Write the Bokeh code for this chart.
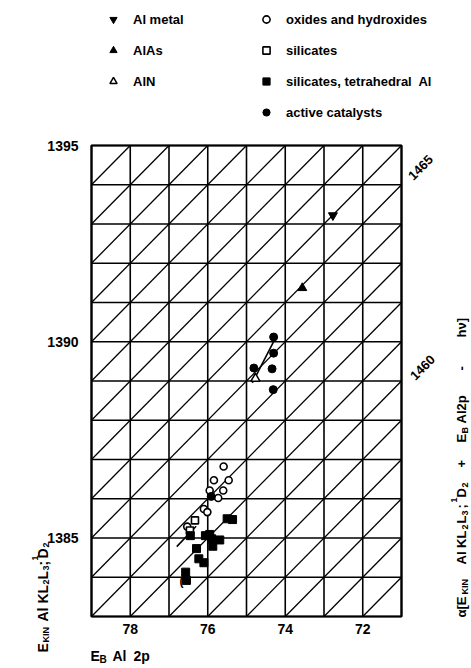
from bokeh.plotting import figure
from bokeh.models import Range1d, Label, Legend, LegendItem
from bokeh.core.properties import value
from bokeh.embed import file_html
from bokeh.resources import INLINE

# ---------------- data ----------------
box_eb = (79, 71)            # E_B Al 2p range of the chart box (eV)
box_ek = (1383, 1395)        # E_KIN range of the chart box (eV)
eb_ticks = [78, 76, 74, 72]
ek_ticks = [1385, 1390, 1395]
eb_grid = list(range(71, 80))
ek_grid = list(range(1383, 1396))
alpha_grid = list(range(1454, 1475))
alpha_labels = [1465, 1460]

al_metal_eb = [72.77]
al_metal_ek = [1393.22]
alas_eb = [73.56]
alas_ek = [1391.37]
aln_eb = [74.77]
aln_ek = [1389.06]
oxide_eb = [75.59, 75.84, 75.46, 75.95, 75.60, 75.73, 76.10, 76.01, 76.53]
oxide_ek = [1386.82, 1386.47, 1386.47, 1386.21, 1386.21, 1386.02, 1385.74, 1385.66, 1385.29]
silicate_eb = [76.33, 76.46]
silicate_ek = [1385.45, 1385.19]
tetra_eb = [75.50, 75.36, 76.45, 76.06, 75.95, 75.90, 75.69, 75.87, 76.29, 76.23, 76.10, 76.57, 76.55]
tetra_ek = [1385.49, 1385.47, 1385.06, 1385.06, 1385.09, 1384.98, 1384.95, 1384.79, 1384.73,
            1384.47, 1384.37, 1384.13, 1383.92]
catalyst_eb = [74.30, 74.30, 74.34, 74.81, 74.31, 75.91]
catalyst_ek = [1390.12, 1389.71, 1389.31, 1389.33, 1388.78, 1386.06]
upper_line_eb = [74.85, 74.25]
upper_line_ek = [1388.95, 1390.10]
lower_line_eb = [76.80, 76.30]
lower_line_ek = [1384.78, 1385.30]

FONT = "Liberation Sans"

# page-pixel -> data helpers (used only to place text annotations)
FL, FT, FW, FH = 91.0, 145.0, 310.0, 471.0
def px2x(px):
    return box_eb[0] - (px - FL) / (FW / (box_eb[0] - box_eb[1]))
def py2y(py):
    return box_ek[1] - (py - FT) / (FH / (box_ek[1] - box_ek[0]))

W, H = 470, 667
p = figure(frame_width=W, frame_height=H, min_border=0,
           x_range=Range1d(px2x(0), px2x(W)), y_range=Range1d(py2y(H), py2y(0)),
           x_axis_location=None, y_axis_location=None,
           output_backend="svg", toolbar_location=None)
p.background_fill_color = "white"
p.border_fill_color = "white"
p.outline_line_color = None
p.xgrid.visible = False
p.ygrid.visible = False

# ---- chart box grid ----
n = len(eb_grid)
p.segment(x0=eb_grid, y0=[box_ek[0]] * n, x1=eb_grid, y1=[box_ek[1]] * n,
          line_color="black", line_width=1.6)
m = len(ek_grid)
p.segment(x0=[box_eb[0]] * m, y0=ek_grid, x1=[box_eb[1]] * m, y1=ek_grid,
          line_color="black", line_width=1.6)
# Auger-parameter diagonals  E_KIN + E_B = alpha
dx0, dy0, dx1, dy1 = [], [], [], []
for a in alpha_grid:
    lo = max(box_eb[1], a - box_ek[1])
    hi = min(box_eb[0], a - box_ek[0])
    if hi - lo > 1e-6:
        dx0.append(hi); dy0.append(a - hi); dx1.append(lo); dy1.append(a - lo)
p.segment(x0=dx0, y0=dy0, x1=dx1, y1=dy1, line_color="black", line_width=1.3)
p.quad(left=[box_eb[0]], right=[box_eb[1]], bottom=[box_ek[0]], top=[box_ek[1]],
       fill_color=None, line_color="black", line_width=2.2)

# ---- tick labels ----
p.text(x=eb_ticks, y=[box_ek[0]] * len(eb_ticks), text=[str(t) for t in eb_ticks],
       y_offset=7, text_align="center", text_baseline="top", text_font=value(FONT),
       text_font_size="14px", text_font_style="bold", text_color="black")
p.text(x=[box_eb[0]] * len(ek_ticks), y=ek_ticks, text=[str(t) for t in ek_ticks],
       x_offset=-13, text_align="right", text_baseline="middle", text_font=value(FONT),
       text_font_size="14px", text_font_style="bold", text_color="black")

# ---- data ----
p.line(upper_line_eb, upper_line_ek, line_color="black", line_width=1.6)
p.line(lower_line_eb, lower_line_ek, line_color="black", line_width=1.6)

r_metal = p.scatter(al_metal_eb, al_metal_ek, marker="inverted_triangle", size=9,
                    fill_color="black", line_color="black")
r_alas = p.scatter(alas_eb, alas_ek, marker="triangle", size=9, fill_color="black", line_color="black")
r_aln = p.scatter(aln_eb, aln_ek, marker="triangle", size=9, fill_color="white",
                  line_color="black", line_width=1.5)
r_ox = p.scatter(oxide_eb, oxide_ek, marker="circle", size=7, fill_color="white",
                 line_color="black", line_width=1.6)
r_sil = p.scatter(silicate_eb, silicate_ek, marker="square", size=7, fill_color="white",
                  line_color="black", line_width=1.6)
r_tet = p.scatter(tetra_eb, tetra_ek, marker="square", size=8, fill_color="black", line_color="black")
r_cat = p.scatter(catalyst_eb, catalyst_ek, marker="circle", size=8, fill_color="black", line_color="black")

def txt(s, px, py, size=13, angle=0.0, align="left", baseline="alphabetic"):
    p.add_layout(Label(x=px2x(px), y=py2y(py), text=s, text_font=FONT,
                       text_font_size="%dpx" % size, text_font_style="bold",
                       text_color="black", angle=angle, angle_units="deg",
                       text_align=align, text_baseline=baseline))

txt("(", 181, 580, 12, 0, "center", "middle")

# ---- legend (two columns) ----
def leg(items, loc):
    L = Legend(items=items, location=loc, orientation="vertical",
               glyph_width=18, glyph_height=18, label_height=18, label_standoff=11,
               spacing=13, padding=0, margin=0, border_line_color=None,
               background_fill_alpha=0, label_text_font=FONT, label_text_font_size="13px",
               label_text_font_style="bold", label_text_color="black")
    p.add_layout(L, "center")

leg([LegendItem(label="Al metal", renderers=[r_metal]),
     LegendItem(label="AlAs", renderers=[r_alas]),
     LegendItem(label="AlN", renderers=[r_aln])], (104, H - 90))
leg([LegendItem(label="oxides and hydroxides", renderers=[r_ox]),
     LegendItem(label="silicates", renderers=[r_sil]),
     LegendItem(label="silicates, tetrahedral  Al", renderers=[r_tet]),
     LegendItem(label="active catalysts", renderers=[r_cat])], (257, H - 121))

# ---- Auger parameter labels ----
txt(str(alpha_labels[0]), 420, 167, 13, 45, "center", "middle")
txt(str(alpha_labels[1]), 422, 367, 13, 45, "center", "middle")

# ---- x-axis title  E_B Al 2p ----
txt("E", 90, 655, 14)
txt("B", 99, 659, 10)
txt("Al", 112, 655, 14)
txt("2p", 133, 655, 14)

# ---- left title  E_KIN Al KL2L3;1D2 (rotated) ----
bx = 42
for s, y0, dx, sz in [("E", 652, 0, 14), ("KIN", 642, 3, 9), ("Al", 621, 0, 14), ("KL", 603, 0, 14),
                      ("2", 584, 3, 9), ("L", 579, 0, 14), ("3", 570, 3, 9), (";", 565, 0, 14),
                      ("1", 560, -8, 9), ("D", 558, 0, 14), ("2", 547, 3, 9)]:
    txt(s, bx + dx, y0, sz, 90)

# ---- right title  alpha[...] (rotated) ----
rx = 461
for s, y0, dx, sz in [("α[E", 617, 0, 13), ("KIN", 594, 3, 9), ("Al KL", 564, 0, 13),
                      ("2", 529, 3, 9), ("L", 523, 0, 13), ("3", 515, 3, 9), (";", 508, 0, 13),
                      ("1", 502, -8, 9), ("D", 497, 0, 13), ("2", 487, 3, 9),
                      ("+", 467, 0, 13), ("E", 442, 0, 13), ("B", 433, 3, 9),
                      ("Al2p", 423, 0, 13), ("-", 370, 0, 13), ("hν]", 337, 0, 13)]:
    txt(s, rx + dx, y0, sz, 90)

open("out.html", "w").write(file_html(p, INLINE))
